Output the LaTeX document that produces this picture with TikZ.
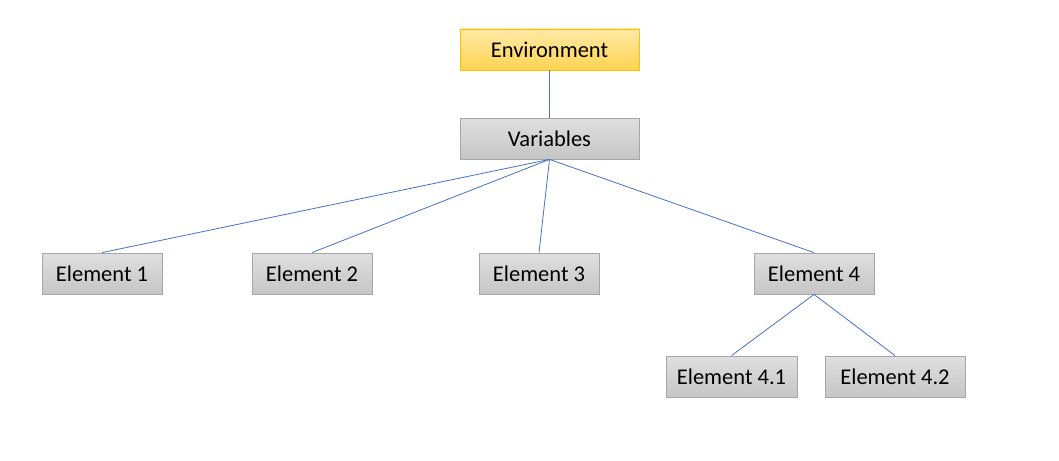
\documentclass[tikz,border=0pt]{standalone}
\usepackage{fontspec}
\setmainfont{Carlito}
\usepackage{tikz}

\definecolor{linkblue}{HTML}{4472C4}
\definecolor{boxedge}{HTML}{A6A6A6}
\definecolor{envedge}{HTML}{FFC000}

\begin{document}
\begin{tikzpicture}[x=1pt,y=-1pt]
\tikzstyle{every node}+=[inner sep=0pt,font=\fontsize{22.5}{26}\selectfont]
\tikzstyle{graybox}=[draw=boxedge,line width=0.8pt,top color=gray!25,bottom color=gray!45,minimum height=41pt]
\tikzstyle{envbox}=[draw=envedge,line width=0.8pt,top color=envedge!35,bottom color=envedge!68,minimum height=41pt,minimum width=179pt]
\tikzstyle{link}=[draw=linkblue,line width=0.8pt]
\useasboundingbox (0,0) rectangle (1059,460);
\node [envbox] (env) at (549.5,49.5) {Environment};
\node [graybox,minimum width=179pt] (var) at (549.5,138.5) {Variables};
\node [graybox,minimum width=120pt] (el1) at (102,273.5) {Element 1};
\node [graybox,minimum width=120pt] (el2) at (312,273.5) {Element 2};
\node [graybox,minimum width=120pt] (el3) at (539,273.5) {Element 3};
\node [graybox,minimum width=120pt] (el4) at (814,273.5) {Element 4};
\node [graybox,minimum width=131pt] (el41) at (731.5,376.5) {Element 4.1};
\node [graybox,minimum width=140pt] (el42) at (895,376.5) {Element 4.2};
\draw [link] (env.south) -- (var.north);
\draw [link] (var.south) -- (el1.north);
\draw [link] (var.south) -- (el2.north);
\draw [link] (var.south) -- (el3.north);
\draw [link] (var.south) -- (el4.north);
\draw [link] (el4.south) -- (el41.north);
\draw [link] (el4.south) -- (el42.north);
\end{tikzpicture}
\end{document}
